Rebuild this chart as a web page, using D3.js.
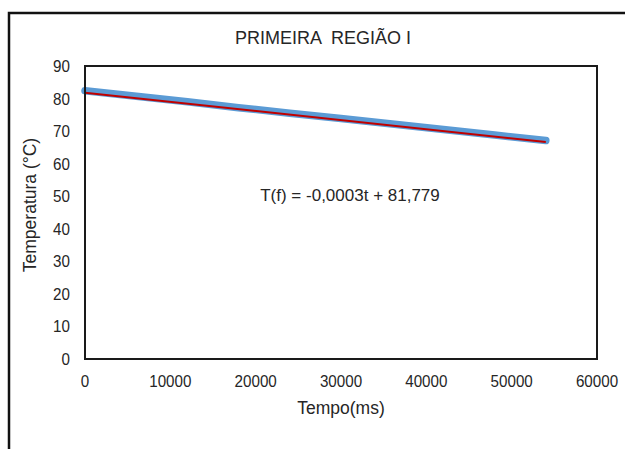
<!DOCTYPE html>
<html>
<head>
<meta charset="utf-8">
<script src="https://cdn.jsdelivr.net/npm/d3@7"></script>
<style>
  body { margin: 0; background: #fff; }
  text { font-family: "Liberation Sans", Arial, sans-serif; fill: #262626; }
</style>
</head>
<body>
<svg id="chart" width="625" height="449"></svg>
<script>
const tempo = [0, 6000, 12000, 18000, 24000, 30000, 36000, 42000, 48000, 54000];
const temperatura = [82.4, 80.7, 79.0, 77.2, 75.5, 73.9, 72.2, 70.5, 68.8, 67.1];
// linear trend (red)
const trendIntercept = 81.779;
const trendSlope = -0.00028;
const trendLabel = 'T(f) = -0,0003t + 81,779';
const xTicks = [0, 10000, 20000, 30000, 40000, 50000, 60000];
const yTicks = [0, 10, 20, 30, 40, 50, 60, 70, 80, 90];

const svg = d3.select('#chart');

// outer chart frame
svg.append('rect')
  .attr('x', 9).attr('y', 13)
  .attr('width', 640).attr('height', 460)
  .attr('fill', 'none').attr('stroke', '#111').attr('stroke-width', 2.5);

const pLeft = 85, pTop = 66, pRight = 597, pBottom = 359;
const x = d3.scaleLinear().domain([0, 60000]).range([pLeft, pRight]);
const y = d3.scaleLinear().domain([0, 90]).range([pBottom, pTop]);

// title
svg.append('text')
  .attr('x', 323).attr('y', 44)
  .attr('text-anchor', 'middle')
  .style('font-size', '18px')
  .style('white-space', 'pre')
  .text('PRIMEIRA  REGIÃO I');

// axis tick labels
svg.append('g').selectAll('text')
  .data(xTicks).enter().append('text')
  .attr('transform', (d) => 'translate(' + x(d) + ',' + (pBottom + 28) + ') scale(0.95,1.08)')
  .attr('text-anchor', 'middle')
  .style('font-size', '16px')
  .text((d) => d);

svg.append('g').selectAll('text')
  .data(yTicks).enter().append('text')
  .attr('transform', (d) => 'translate(' + (pLeft - 15) + ',' + (y(d) + 6) + ') scale(0.95,1.08)')
  .attr('text-anchor', 'end')
  .style('font-size', '16px')
  .text((d) => d);

// axis titles
svg.append('text')
  .attr('x', 341).attr('y', 414)
  .attr('text-anchor', 'middle')
  .style('font-size', '17.5px')
  .text('Tempo(ms)');

svg.append('text')
  .attr('transform', 'translate(36,205) rotate(-90)')
  .attr('text-anchor', 'middle')
  .style('font-size', '17.5px')
  .text('Temperatura (°C)');

// data series
const pts = tempo.map((t, i) => [t, temperatura[i]]);
svg.append('path')
  .datum(pts)
  .attr('fill', 'none')
  .attr('stroke', '#5B9BD5')
  .attr('stroke-width', 7.5)
  .attr('stroke-linecap', 'round')
  .attr('stroke-linejoin', 'round')
  .attr('d', d3.line().x((d) => x(d[0])).y((d) => y(d[1])));

// trend line
const tEnd = tempo[tempo.length - 1];
svg.append('line')
  .attr('x1', x(0)).attr('y1', y(trendIntercept))
  .attr('x2', x(tEnd)).attr('y2', y(trendIntercept + trendSlope * tEnd))
  .attr('stroke', '#C00000')
  .attr('stroke-width', 2);

svg.append('text')
  .attr('x', 350).attr('y', 201)
  .attr('text-anchor', 'middle')
  .style('font-size', '17px')
  .text(trendLabel);

// plot area border
svg.append('rect')
  .attr('x', pLeft).attr('y', pTop)
  .attr('width', pRight - pLeft).attr('height', pBottom - pTop)
  .attr('fill', 'none').attr('stroke', '#1a1a1a').attr('stroke-width', 2);
</script>
</body>
</html>
